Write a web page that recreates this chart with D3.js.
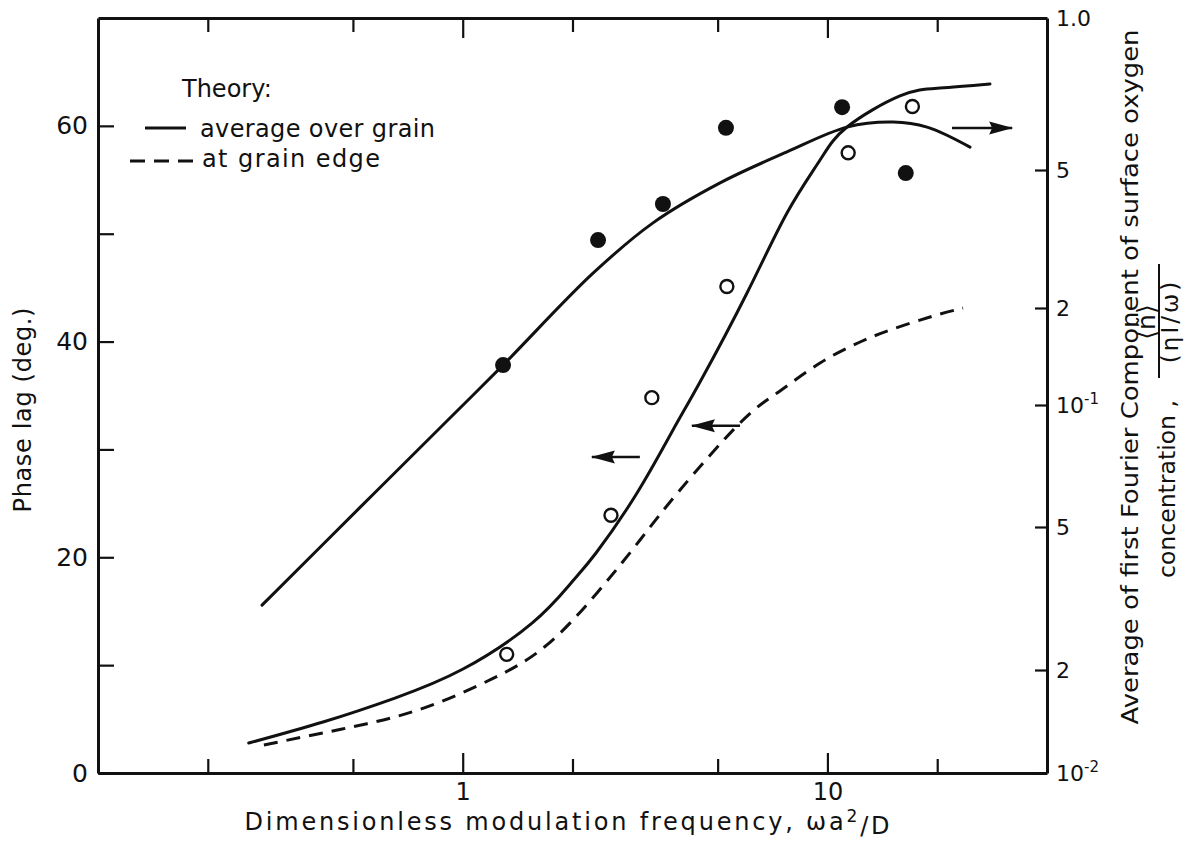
<!DOCTYPE html>
<html><head><meta charset="utf-8">
<script src="https://cdn.jsdelivr.net/npm/d3@7"></script>
<style>
html,body{margin:0;padding:0;background:#fff;}
svg text{font-family:"DejaVu Sans",sans-serif;fill:#111;}
</style></head><body>
<svg id="chart" width="1189" height="844"></svg>
<script>
// ---------- data ----------
const xTicks = [0.2, 0.5, 1, 2, 5, 10, 20];
const xMajor = [1, 10];
const xTickLabels = {1: "1", 10: "10"};
const phaseTicks = [0, 10, 20, 30, 40, 50, 60];
const phaseTickLabels = [0, 20, 40, 60];
const ampTicks = [0.01, 0.02, 0.05, 0.1, 0.2, 0.5, 1];
const ampTickLabels = ["10", "2", "5", "10", "2", "5", "1.0"];
const ampTickSup    = ["-2", "", "", "-1", "", "", ""];

// experimental phase lag (open circles, left axis)
const phaseFreq = [1.32, 2.55, 3.30, 5.30, 11.4, 17.1];
const phaseLag  = [11.0, 23.9, 34.8, 45.1, 57.5, 61.8];

// experimental amplitude (filled circles, right axis)
const ampFreq  = [1.29, 2.35, 3.54, 5.27, 10.97, 16.4];
const ampValue = [0.133, 0.314, 0.399, 0.606, 0.666, 0.490];

// theory: phase lag, average over grain (solid)
const thPhaseAvgFreq = [0.259, 0.414, 0.652, 1.002, 1.549, 1.982, 2.32, 3.006, 3.772, 4.474, 6.019, 7.747, 9.544, 11.32, 15.81, 20.36, 27.91];
const thPhaseAvgLag  = [2.78, 4.73, 6.95, 9.64, 13.9, 17.62, 20.40, 25.96, 31.80, 36.25, 44.50, 51.92, 56.83, 59.89, 62.77, 63.50, 63.88];

// theory: phase lag, at grain edge (dashed)
const thPhaseEdgeFreq = [0.285, 0.467, 0.754, 1.203, 1.702, 2.334, 3.063, 3.943, 5.758, 7.275, 9.544, 12.29, 14.84, 19.11, 23.54];
const thPhaseEdgeLag  = [2.60, 4.08, 5.84, 8.72, 11.87, 16.69, 21.60, 26.24, 32.45, 35.23, 38.01, 39.96, 41.07, 42.28, 43.11];

// theory: amplitude, average over grain (solid, right axis)
const thAmpFreq  = [0.2817, 0.523, 0.911, 1.29, 2.277, 3.325, 5.077, 7.747, 11.32, 15.13, 18.76, 24.60];
const thAmpValue = [0.0303, 0.0559, 0.0918, 0.133, 0.252, 0.352, 0.459, 0.543, 0.608, 0.622, 0.608, 0.555];

// arrows pointing to the axis each curve belongs to: [x from, x to, phase-lag level]
const arrowFromX = [21.96, 3.06, 5.76];
const arrowToX   = [32.1, 2.26, 4.25];
const arrowY     = [59.8, 29.3, 32.2];

// ---------- layout ----------
const L = 98, R = 1047, T = 18, B = 773;
const svg = d3.select("#chart");
const ink = "#111";

const x = d3.scaleLog().domain([0.1, 40]).range([L, R]);
const yL = d3.scaleLinear().domain([0, 70]).range([B, T]);
// right axis as ruled in the figure (hand-drawn log ticks)
const yR = d3.scaleLog().domain(ampTicks).range([B, 670, 527, 405, 308, 170, T]);

// ---------- axes ----------
function styleAxis(g) {
  g.select(".domain").attr("stroke", ink).attr("stroke-width", 3);
  g.selectAll(".tick line").attr("stroke", ink).attr("stroke-width", 2.2);
  g.selectAll(".tick text").attr("fill", ink).style("font-family", '"DejaVu Sans",sans-serif');
}

const gB = svg.append("g").attr("transform", `translate(0,${B})`)
  .call(d3.axisBottom(x).tickValues(xTicks).tickSizeInner(-14).tickSizeOuter(0).tickPadding(10)
    .tickFormat(d => xTickLabels[d] || ""));
styleAxis(gB);
gB.selectAll(".tick line").attr("y2", d => xMajor.includes(d) ? -20 : -14);
gB.selectAll(".tick text").style("font-size", "24px");

const gT = svg.append("g").attr("transform", `translate(0,${T})`)
  .call(d3.axisTop(x).tickValues(xTicks).tickSizeInner(-14).tickSizeOuter(0).tickFormat(""));
styleAxis(gT);
gT.selectAll(".tick line").attr("y2", d => xMajor.includes(d) ? 20 : 14);

const gL = svg.append("g").attr("transform", `translate(${L},0)`)
  .call(d3.axisLeft(yL).tickValues(phaseTicks).tickSizeInner(-16).tickSizeOuter(0).tickPadding(10)
    .tickFormat(d => phaseTickLabels.includes(d) ? d : ""));
styleAxis(gL);
gL.selectAll(".tick text").style("font-size", "25px");

const gR = svg.append("g").attr("transform", `translate(${R},0)`)
  .call(d3.axisRight(yR).tickValues(ampTicks).tickSizeInner(-12).tickSizeOuter(0).tickPadding(9)
    .tickFormat((d, i) => ampTickLabels[i]));
styleAxis(gR);
gR.selectAll(".tick text").style("font-size", "22px")
  .each(function (d, i) {
    if (ampTickSup[i]) {
      d3.select(this).append("tspan").attr("dy", "-0.55em").style("font-size", "15px").text(ampTickSup[i]);
    }
  });

// ---------- curves ----------
const lineL = d3.line().x(d => x(d[0])).y(d => yL(d[1])).curve(d3.curveNatural);
const lineR = d3.line().x(d => x(d[0])).y(d => yR(d[1])).curve(d3.curveCatmullRom.alpha(0.5));

svg.append("path").datum(d3.zip(thAmpFreq, thAmpValue)).attr("d", lineR)
  .attr("fill", "none").attr("stroke", ink).attr("stroke-width", 3).attr("stroke-linecap", "round");
svg.append("path").datum(d3.zip(thPhaseAvgFreq, thPhaseAvgLag)).attr("d", lineL)
  .attr("fill", "none").attr("stroke", ink).attr("stroke-width", 3).attr("stroke-linecap", "round");
svg.append("path").datum(d3.zip(thPhaseEdgeFreq, thPhaseEdgeLag)).attr("d", lineL)
  .attr("fill", "none").attr("stroke", ink).attr("stroke-width", 3).attr("stroke-dasharray", "14 9");

// ---------- points ----------
svg.append("g").selectAll("circle").data(d3.zip(ampFreq, ampValue)).join("circle")
  .attr("cx", d => x(d[0])).attr("cy", d => yR(d[1])).attr("r", 8).attr("fill", ink);
svg.append("g").selectAll("circle").data(d3.zip(phaseFreq, phaseLag)).join("circle")
  .attr("cx", d => x(d[0])).attr("cy", d => yL(d[1])).attr("r", 6.5)
  .attr("fill", "#fff").attr("stroke", ink).attr("stroke-width", 2.4);

// ---------- arrows ----------
const defs = svg.append("defs");
defs.append("marker").attr("id", "ah").attr("markerUnits", "userSpaceOnUse")
  .attr("markerWidth", 24).attr("markerHeight", 14).attr("refX", 23).attr("refY", 7)
  .attr("orient", "auto")
  .append("path").attr("d", "M0,0.5 L24,7 L0,13.5 L3,7 Z").attr("fill", ink);
svg.append("g").selectAll("line").data(d3.range(arrowFromX.length)).join("line")
  .attr("x1", i => x(arrowFromX[i])).attr("x2", i => x(arrowToX[i]))
  .attr("y1", i => yL(arrowY[i])).attr("y2", i => yL(arrowY[i]))
  .attr("stroke", ink).attr("stroke-width", 2.4).attr("marker-end", "url(#ah)");

// ---------- legend ----------
svg.append("text").attr("x", 182).attr("y", 97).style("font-size", "24px").text("Theory:");
svg.append("line").attr("x1", 145).attr("x2", 186).attr("y1", 128).attr("y2", 128)
  .attr("stroke", ink).attr("stroke-width", 3);
svg.append("text").attr("x", 200).attr("y", 137).style("font-size", "24px")
  .attr("textLength", 235).attr("lengthAdjust", "spacing").text("average over grain");
svg.append("line").attr("x1", 130).attr("x2", 194).attr("y1", 161).attr("y2", 161)
  .attr("stroke", ink).attr("stroke-width", 3).attr("stroke-dasharray", "15 9");
svg.append("text").attr("x", 202).attr("y", 167).style("font-size", "24px")
  .attr("textLength", 178).attr("lengthAdjust", "spacing").text("at grain edge");

// ---------- axis titles ----------
const xt = svg.append("text").attr("x", 567).attr("y", 830).attr("text-anchor", "middle")
  .style("font-size", "24px").attr("textLength", 645).attr("lengthAdjust", "spacing");
xt.append("tspan").text("Dimensionless modulation frequency, \u03C9a");
xt.append("tspan").attr("dy", "-0.5em").style("font-size", "17px").text("2");
xt.append("tspan").attr("dy", "0.5em").text("/D");

svg.append("text").attr("transform", "translate(31,410) rotate(-90)").attr("text-anchor", "middle")
  .style("font-size", "24px").attr("textLength", 205).attr("lengthAdjust", "spacing")
  .text("Phase lag (deg.)");

svg.append("text").attr("transform", "translate(1138,377) rotate(-90)").attr("text-anchor", "middle")
  .style("font-size", "23px").attr("textLength", 695).attr("lengthAdjust", "spacingAndGlyphs")
  .text("Average of first Fourier Component of surface oxygen");
svg.append("text").attr("transform", "translate(1175,489) rotate(-90)").attr("text-anchor", "middle")
  .style("font-size", "23px").attr("textLength", 178).attr("lengthAdjust", "spacingAndGlyphs")
  .text("concentration ,");
svg.append("text").attr("transform", "translate(1155,322) rotate(-90)").attr("text-anchor", "middle")
  .style("font-size", "25px").text("\u27E8\u00F1\u27E9");
svg.append("line").attr("x1", 1159).attr("x2", 1159).attr("y1", 264).attr("y2", 378)
  .attr("stroke", ink).attr("stroke-width", 2);
svg.append("text").attr("transform", "translate(1178,321) rotate(-90)").attr("text-anchor", "middle")
  .style("font-size", "23px").style("letter-spacing", "3px")
  .text("(\u03B7I/\u03C9)");
</script>
</body></html>
